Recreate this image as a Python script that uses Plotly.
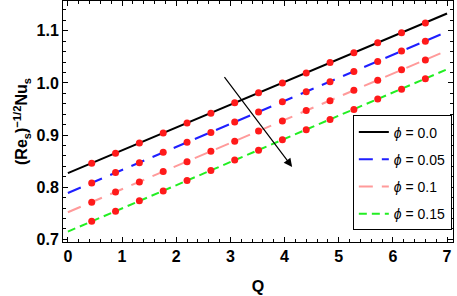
import plotly.graph_objects as go

# Line endpoints (Q from 0 to 7)
q_line = [0, 7]
nu_phi00 = [0.827, 1.133]
nu_phi005 = [0.789, 1.098]
nu_phi01 = [0.752, 1.062]
nu_phi015 = [0.715, 1.026]

# Red marker points (numerical solution)
q_dots = [0.44, 0.88, 1.32, 1.76, 2.2, 2.64, 3.08, 3.52, 3.96, 4.4, 4.84, 5.28, 5.72, 6.16, 6.6]
dots_phi00 = [0.846, 0.865, 0.885, 0.904, 0.923, 0.942, 0.962, 0.981, 1.000, 1.019, 1.039, 1.058, 1.077, 1.096, 1.115]
dots_phi005 = [0.808, 0.828, 0.847, 0.867, 0.886, 0.905, 0.925, 0.944, 0.964, 0.983, 1.002, 1.022, 1.041, 1.061, 1.080]
dots_phi01 = [0.771, 0.791, 0.810, 0.830, 0.849, 0.869, 0.888, 0.908, 0.927, 0.947, 0.966, 0.986, 1.005, 1.025, 1.044]
dots_phi015 = [0.735, 0.754, 0.774, 0.793, 0.813, 0.832, 0.852, 0.871, 0.891, 0.910, 0.930, 0.949, 0.969, 0.988, 1.008]

labels = ['0.0', '0.05', '0.1', '0.15']
colors = ['black', '#1f1fff', '#ff9a9a', '#22ee22']
dashes = ['solid', '14px,9px', '14px,9px', '8px,5px']

fig = go.Figure()

lines = [nu_phi00, nu_phi005, nu_phi01, nu_phi015]
dots = [dots_phi00, dots_phi005, dots_phi01, dots_phi015]

for lab, col, dsh, ys in zip(labels, colors, dashes, lines):
    fig.add_trace(go.Scatter(
        x=q_line, y=ys, mode='lines',
        line=dict(color=col, width=2, dash=dsh),
        name=f'<i>ϕ</i> = {lab}', legendgroup=lab,
    ))

for ys in dots:
    fig.add_trace(go.Scatter(
        x=q_dots, y=ys, mode='markers',
        marker=dict(color='#ff1a1a', size=7),
        showlegend=False,
    ))

# arrow showing increasing phi
fig.add_annotation(
    x=4.14, y=0.839, ax=2.87, ay=1.014,
    xref='x', yref='y', axref='x', ayref='y',
    showarrow=True, arrowhead=2, arrowsize=1.4, arrowwidth=1.2, arrowcolor='black', text='',
)

axis_common = dict(
    showline=True, linecolor='black', linewidth=1, mirror='allticks',
    ticks='inside', ticklen=5, tickcolor='black', showgrid=False, zeroline=False,
    automargin=False,
    tickfont=dict(family='Liberation Sans, Arial', size=16, color='black', weight='bold'),
)

fig.update_layout(
    width=457, height=296,
    margin=dict(l=63, r=4, t=1, b=54, autoexpand=False),
    plot_bgcolor='white', paper_bgcolor='white',
    xaxis=dict(range=[-0.09, 7.11], dtick=1, tick0=0,
               minor=dict(ticks='inside', ticklen=3, dtick=0.2, tickcolor='black'),
               title=dict(text='<b>Q</b>', font=dict(family='Liberation Sans, Arial', size=16, color='black'), standoff=16),
               **axis_common),
    yaxis=dict(range=[0.695, 1.157], dtick=0.1, tick0=0.7, tickformat='.1f',
               minor=dict(ticks='inside', ticklen=3, dtick=0.02, tickcolor='black'),
               title=dict(text='<b>(Re<sub>s</sub>)<sup>−1/2</sup>Nu<sub>s</sub></b>',
                          font=dict(family='Liberation Sans, Arial', size=16, color='black'), standoff=4),
               **axis_common),
    legend=dict(x=0.997, y=0.525, xanchor='right', yanchor='top',
                bordercolor='black', borderwidth=1, bgcolor='white',
                font=dict(family='Liberation Sans, Arial', size=14, color='black'),
                tracegroupgap=6, itemwidth=30),
    showlegend=True,
)

fig.write_html("out.html", config={'displayModeBar': False},
               post_script="document.body.style.margin='0';")
